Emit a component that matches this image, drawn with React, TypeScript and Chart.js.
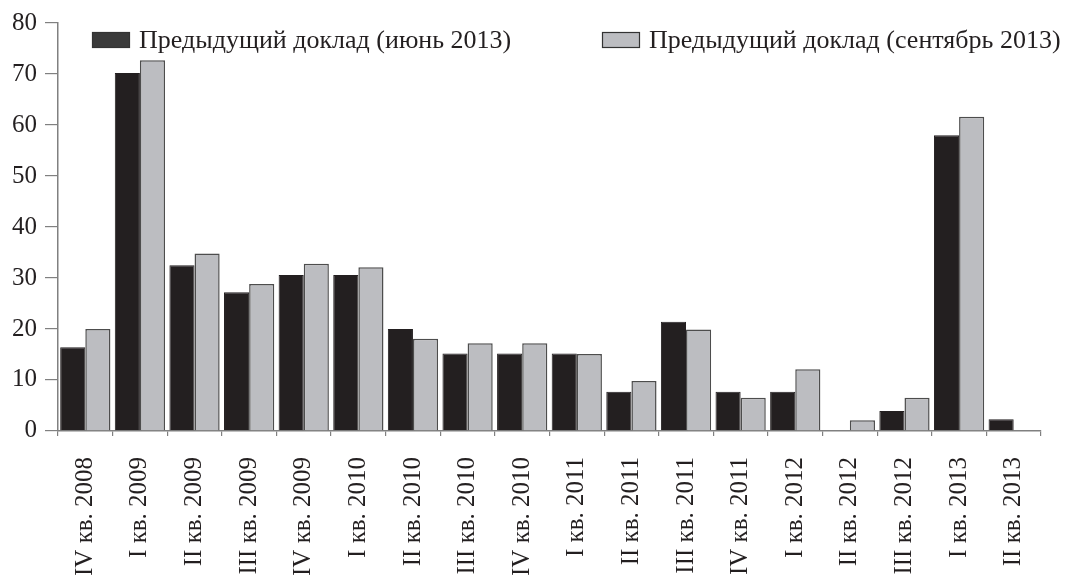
import React, { useEffect, useRef } from "react";
import { Chart, registerables } from "chart.js";

Chart.register(...registerables);

// Quarters shown along the horizontal axis
const quarters: string[] = [
  "IV кв. 2008", "I кв. 2009", "II кв. 2009", "III кв. 2009", "IV кв. 2009",
  "I кв. 2010", "II кв. 2010", "III кв. 2010", "IV кв. 2010", "I кв. 2011",
  "II кв. 2011", "III кв. 2011", "IV кв. 2011", "I кв. 2012", "II кв. 2012",
  "III кв. 2012", "I кв. 2013", "II кв. 2013",
];

const juneLabel = "Предыдущий доклад (июнь 2013)";
const septLabel = "Предыдущий доклад (сентябрь 2013)";

const juneValues: (number | null)[] = [
  16.4, 70.2, 32.5, 27.2, 30.6, 30.6, 20.0, 15.2, 15.2, 15.2,
  7.7, 21.4, 7.7, 7.7, null, 3.9, 58.0, 2.3,
];

const septValues: (number | null)[] = [
  20.0, 72.7, 34.8, 28.8, 32.8, 32.1, 18.1, 17.2, 17.2, 15.1,
  9.8, 19.9, 6.5, 12.1, 2.1, 6.5, 61.6, null,
];

const yTicks: number[] = [0, 10, 20, 30, 40, 50, 60, 70, 80];

const FONT = "'Liberation Serif', 'DejaVu Serif', serif";
const FONT_SIZE = 25;
const LEGEND_SIZE = 26;
const TEXT = "#231f20";
const AXIS = "#808080";
const DARK = "#231f20";
const LIGHT = "#bcbdc1";

// Legend drawn inside the plot, two entries spread across the top
const legendPlugin = {
  id: "insideLegend",
  afterDraw(chart: Chart) {
    const ctx = chart.ctx;
    const items = [
      { x: 92, fill: "#3a3a3a", label: chart.data.datasets[0].label as string },
      { x: 602, fill: LIGHT, label: chart.data.datasets[1].label as string },
    ];
    ctx.save();
    ctx.font = `${LEGEND_SIZE}px ${FONT}`;
    ctx.textBaseline = "middle";
    items.forEach((it) => {
      ctx.fillStyle = it.fill;
      ctx.fillRect(it.x, 32, 38, 16);
      ctx.strokeStyle = "#333333";
      ctx.lineWidth = 1.2;
      ctx.strokeRect(it.x + 0.5, 32.5, 37, 15);
      ctx.fillStyle = TEXT;
      ctx.fillText(it.label, it.x + 47, 41);
    });
    ctx.restore();
  },
};

export default function App() {
  const canvasRef = useRef<HTMLCanvasElement | null>(null);

  useEffect(() => {
    if (!canvasRef.current) return;
    const chart = new Chart(canvasRef.current, {
      type: "bar",
      data: {
        labels: quarters,
        datasets: [
          {
            label: juneLabel,
            data: juneValues,
            backgroundColor: DARK,
            borderColor: "#231f20",
            borderWidth: 1,
            categoryPercentage: 0.92,
            barPercentage: 1,
          },
          {
            label: septLabel,
            data: septValues,
            backgroundColor: LIGHT,
            borderColor: "#4d4d4d",
            borderWidth: 1.5,
            categoryPercentage: 0.92,
            barPercentage: 1,
          },
        ],
      },
      options: {
        responsive: false,
        animation: false,
        layout: { padding: { left: 4, right: 29, top: 17, bottom: -16 } },
        plugins: {
          legend: { display: false },
          tooltip: { enabled: false },
        },
        scales: {
          x: {
            grid: {
              display: true,
              drawOnChartArea: false,
              drawTicks: true,
              tickLength: 5,
              color: AXIS,
              lineWidth: 1.2,
              offset: true,
            },
            border: { display: true, color: AXIS, width: 1.5 },
            ticks: {
              autoSkip: false,
              minRotation: 90,
              maxRotation: 90,
              padding: 21,
              color: TEXT,
              font: { family: FONT, size: FONT_SIZE },
            },
          },
          y: {
            min: 0,
            max: 80,
            afterBuildTicks: (scale: any) => {
              scale.ticks = yTicks.map((v) => ({ value: v }));
            },
            grid: {
              display: true,
              drawOnChartArea: false,
              drawTicks: true,
              tickLength: 13,
              color: AXIS,
              lineWidth: 1.2,
            },
            border: { display: true, color: AXIS, width: 1.5 },
            ticks: {
              padding: 8,
              color: TEXT,
              font: { family: FONT, size: FONT_SIZE },
            },
          },
        },
      },
      plugins: [legendPlugin],
    });
    return () => chart.destroy();
  }, []);

  return (
    <div style={{ position: "fixed", left: 0, top: 0, width: 1070, height: 581, background: "#fff" }}>
      <canvas ref={canvasRef} width={1070} height={581} style={{ display: "block" }} />
    </div>
  );
}
